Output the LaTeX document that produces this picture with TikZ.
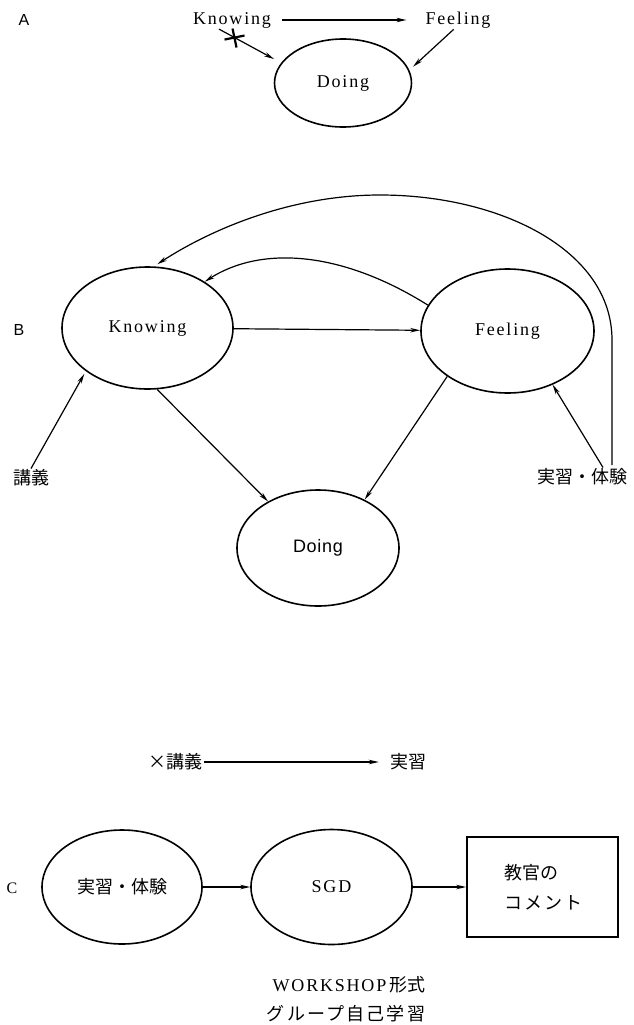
\documentclass[tikz,border=0pt]{standalone}
\usepackage{fontspec}
\setmainfont{Liberation Serif}
\newfontfamily\jp{Noto Sans CJK JP}
\newfontfamily\jpsp[LetterSpace=12]{Noto Sans CJK JP}
\newfontfamily\lsans{Liberation Sans}
\newfontfamily\spaced[LetterSpace=10]{Liberation Serif}
\newfontfamily\spacedsans[LetterSpace=4]{Liberation Sans}
\usetikzlibrary{shapes.geometric,arrows.meta}
\begin{document}
\begin{tikzpicture}[x=1pt,y=-1pt,
  every node/.style={inner sep=1pt},
  lbl/.style={font=\lsans\fontsize{16}{18}\selectfont},
  word/.style={font=\spaced\fontsize{18}{20}\selectfont},
  sword/.style={font=\spacedsans\fontsize{18}{20}\selectfont},
  jtext/.style={font=\jp\fontsize{18}{20}\selectfont},
  jspaced/.style={font=\jpsp\fontsize{18}{20}\selectfont},
  oval/.style={draw, ellipse, line width=1.6pt, inner sep=0pt},
  arr/.style={line width=1.2pt, -{Stealth[length=10pt,width=4.5pt]}},
  xmark/.style={line width=2.2pt},
  box/.style={draw, line width=1.7pt}]
\path[use as bounding box] (0,0) rectangle (633,1025);

% ---------- A ----------
\node[lbl] (labA) at (24,20) {A};
\node[word] (aK) at (232,20) {Knowing};
\node[word] (aF) at (458,20) {Feeling};
\node[oval, minimum width=137pt, minimum height=88pt, word] (aD) at (343,83) {Doing};
\draw[arr, shorten <=10pt, shorten >=18pt] (aK.east) -- (aF.west);
\draw[arr, shorten >=8pt] (aK.-145) -- coordinate[pos=0.25] (xm) (aD.162);
\draw[xmark] ([shift={(-10,2)}]xm) -- ([shift={(10,-2)}]xm);
\draw[xmark] ([shift={(-2,-9)}]xm) -- ([shift={(2,10)}]xm);
\draw[arr, shorten >=5pt] (aF.-115) -- (aD.11);

% ---------- B ----------
\node[lbl] (labB) at (19,330) {B};
\node[oval, minimum width=171pt, minimum height=122pt, word] (bK) at (147.5,328) {Knowing};
\node[oval, minimum width=173pt, minimum height=124pt, word] (bF) at (507.5,331) {Feeling};
\node[oval, minimum width=162pt, minimum height=116pt, sword] (bD) at (318,548) {Doing};
\node[jtext] (bL) at (31,478) {講義};
\node[jtext] (bE) at (582,477) {実習・体験};
\coordinate (loopstart) at (612,465);

\draw[arr] (bK) -- (bF);
\draw[arr] (bK.-81) -- (bD.137);
\draw[arr] (bF.-143) -- (bD.46);
\draw[arr] (bF.162) .. controls (340,250) and (260,246) .. (bK.39.5);
\draw[arr, shorten >=4pt] (loopstart) -- (612,340) .. controls (612,250) and (500,195) .. (380,195) .. controls (290,195) and (210,230) .. (bK.84);
\draw[arr, shorten >=3pt] (bL.north) -- (bK.-145);
\draw[arr] ([xshift=21pt]bE.north) -- (bF.-50);

% ---------- C ----------
\node[jtext] (cX) at (175,762) {×講義};
\node[jtext] (cJ) at (408,762) {実習};
\draw[arr, shorten <=1pt, shorten >=10pt] (cX.east) -- (cJ.west);

\node[font=\fontsize{16}{18}\selectfont] (labC) at (12,888) {C};
\node[oval, minimum width=160pt, minimum height=114pt, jtext] (c1) at (122,887) {実習・体験};
\node[oval, minimum width=161pt, minimum height=115pt, word] (c2) at (331.5,887) {SGD};
\node[box, minimum width=151pt, minimum height=100pt] (c3) at (542.5,887) {};
\node[jtext, anchor=west] (c3a) at (503,873) {教官の};
\node[jspaced, anchor=west] (c3b) at (503,903) {コメント};
\draw[arr] (c1) -- (c2);
\draw[arr] (c2) -- (c3);

\node[font=\fontsize{18}{20}\selectfont] (w1) at (349,985) {{\spaced WORKSHOP}\,{\jp 形式}};
\node[jspaced] (w2) at (346,1014) {グループ自己学習};
\end{tikzpicture}
\end{document}
